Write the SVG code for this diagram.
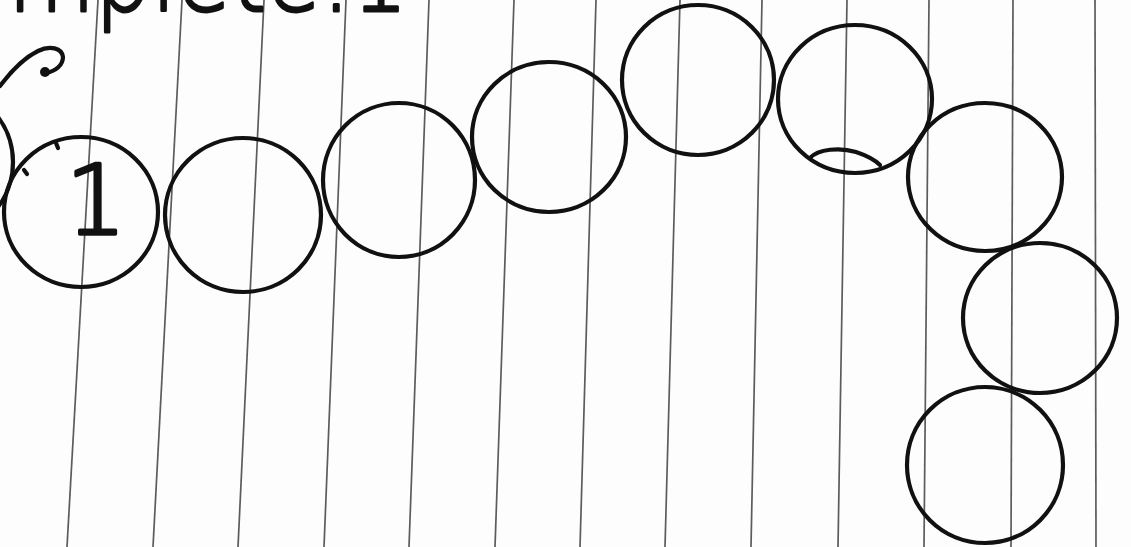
<svg xmlns="http://www.w3.org/2000/svg" width="1131" height="547" viewBox="0 0 1131 547">
  <style>
    .rule { stroke: #4a4a4a; stroke-width: 1.7; fill: none; opacity: 0.9; }
    .ink { stroke: #111; stroke-width: 4.2; fill: none; stroke-linecap: round; }
    .hand { font-family: "DejaVu Sans", "Liberation Sans", sans-serif; font-weight: 200; fill: #111; stroke: #111; stroke-linejoin: round; }
  </style>
  <rect width="1131" height="547" fill="#fdfdfd"/>
  <g id="paper-rules">
    <line class="rule" x1="98" y1="0" x2="67" y2="547"/>
    <line class="rule" x1="182" y1="0" x2="153" y2="547"/>
    <line class="rule" x1="264" y1="0" x2="238" y2="547"/>
    <line class="rule" x1="346" y1="0" x2="324" y2="547"/>
    <line class="rule" x1="429" y1="0" x2="409" y2="547"/>
    <line class="rule" x1="514" y1="0" x2="495" y2="547"/>
    <line class="rule" x1="596" y1="0" x2="580" y2="547"/>
    <line class="rule" x1="680" y1="0" x2="665" y2="547"/>
    <line class="rule" x1="762" y1="0" x2="751" y2="547"/>
    <line class="rule" x1="847" y1="0" x2="838" y2="547"/>
    <line class="rule" x1="929" y1="0" x2="924" y2="547"/>
    <line class="rule" x1="1013" y1="0" x2="1011" y2="547"/>
    <line class="rule" x1="1095" y1="0" x2="1096" y2="547"/>
  </g>
  <g id="heading">
    <text class="hand" x="8" y="11" font-size="104" stroke-width="3" textLength="400" lengthAdjust="spacingAndGlyphs">mplete:1</text>
  </g>
  <g id="head-curl">
    <path class="ink" d="M0,86 C12,70 24,58 38,51 C50,45 62,48 63,57 C63,65 56,71 46,73"/>
    <circle cx="45" cy="72" r="5" fill="#111"/>
    <circle class="ink" cx="-62" cy="162" r="75"/>
  </g>
  <g id="circle-1">
    <ellipse class="ink" cx="81" cy="212" rx="77" ry="75"/>
    <path class="ink" d="M56,143 l2,5 M24,170 l3,4" stroke-width="2.5"/>
    <text class="hand" x="96" y="234" font-size="96" stroke-width="3.5" text-anchor="middle">1</text>
  </g>
  <g id="circle-2"><ellipse class="ink" cx="243" cy="215" rx="78" ry="77"/></g>
  <g id="circle-3"><ellipse class="ink" cx="399" cy="180" rx="76" ry="77"/></g>
  <g id="circle-4"><ellipse class="ink" cx="549" cy="137" rx="77" ry="75"/></g>
  <g id="circle-5"><ellipse class="ink" cx="698" cy="80" rx="76" ry="75"/></g>
  <g id="circle-6">
    <ellipse class="ink" cx="855" cy="99" rx="77" ry="74"/>
    <path class="ink" d="M810,158 C818,149 840,147 856,152 C868,156 876,161 880,165"/>
  </g>
  <g id="circle-7"><ellipse class="ink" cx="985" cy="177" rx="77" ry="74"/></g>
  <g id="circle-8"><ellipse class="ink" cx="1040" cy="318" rx="77" ry="75"/></g>
  <g id="circle-9"><ellipse class="ink" cx="985" cy="465" rx="78" ry="78"/></g>
</svg>
